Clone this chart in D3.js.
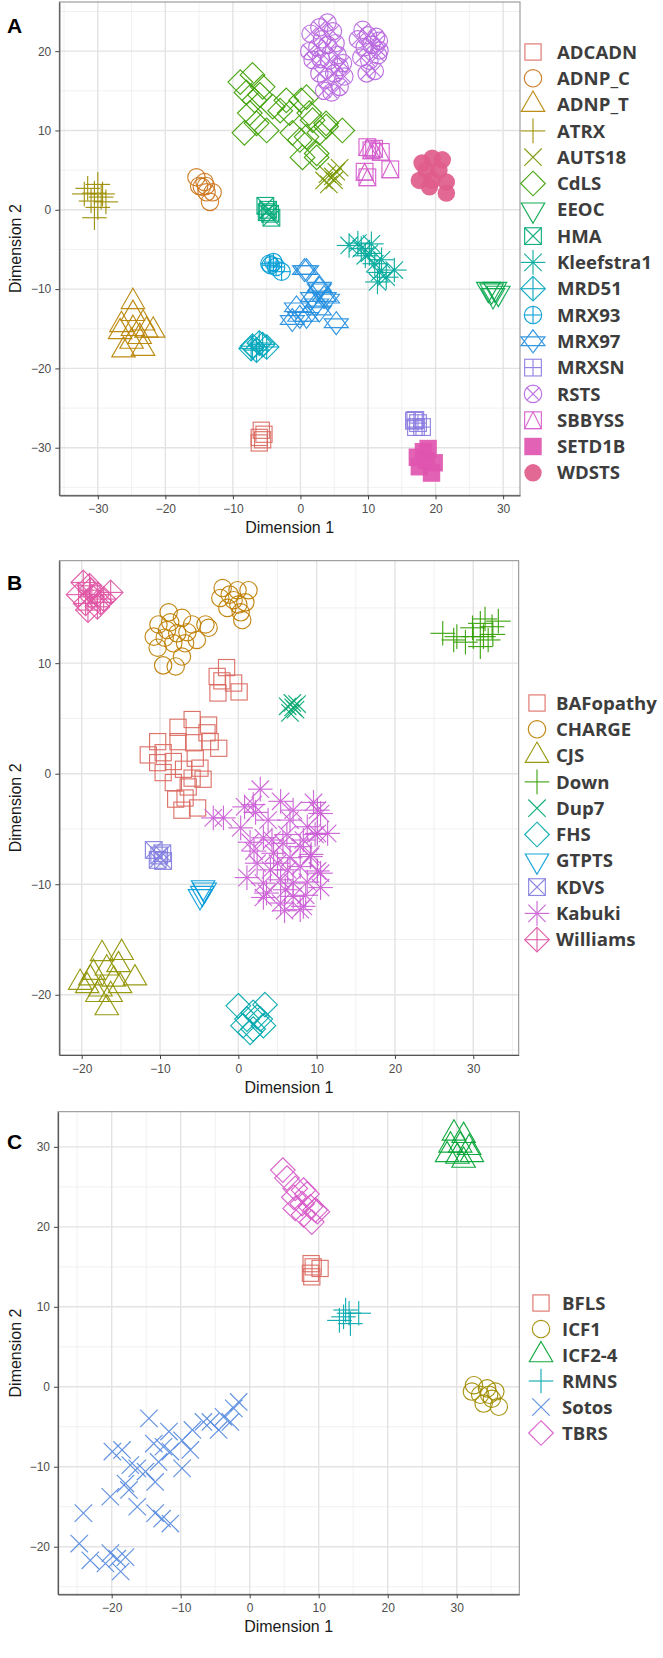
<!DOCTYPE html>
<html><head><meta charset="utf-8">
<script src="https://cdn.jsdelivr.net/npm/d3@7"></script>
<style>body{margin:0;background:#fff}svg{display:block}</style>
</head><body>
<svg id="chart" width="663" height="1658"></svg>
<script>
// ---------------- DATA ----------------
const categoriesA = ["ADCADN","ADNP_C","ADNP_T","ATRX","AUTS18","CdLS","EEOC","HMA","Kleefstra1","MRD51","MRX93","MRX97","MRXSN","RSTS","SBBYSS","SETD1B","WDSTS"];
const categoriesB = ["BAFopathy","CHARGE","CJS","Down","Dup7","FHS","GTPTS","KDVS","Kabuki","Williams"];
const categoriesC = ["BFLS","ICF1","ICF2-4","RMNS","Sotos","TBRS"];

const xTicksA = [-30,-20,-10,0,10,20,30];
const yTicksA = [-30,-20,-10,0,10,20];
const xTicksB = [-20,-10,0,10,20,30];
const yTicksB = [-20,-10,0,10];
const xTicksC = [-20,-10,0,10,20,30];
const yTicksC = [-20,-10,0,10,20,30];

const xDomainA = [-35.7,32.5], yDomainA = [-36.0,26.2];
const xDomainB = [-22.86,35.8], yDomainB = [-25.45,19.27];
const xDomainC = [-27.78,39.07], yDomainC = [-25.95,34.4];

// [group, dimension1, dimension2]
const pointsA = [
["ADCADN",-5.8,-27.8],["ADCADN",-6.1,-28.7],["ADCADN",-5.6,-29.0],["ADCADN",-6.1,-29.4],["ADCADN",-5.4,-28.3],
["ADNP_C",-15.4,4.1],["ADNP_C",-14.2,3.5],["ADNP_C",-14.6,2.9],["ADNP_C",-13.9,2.2],["ADNP_C",-13.4,1.0],["ADNP_C",-13.0,2.2],["ADNP_C",-15.0,3.0],["ADNP_C",-14.0,3.0],
["ADNP_T",-24.8,-11.6],["ADNP_T",-24.8,-13.1],["ADNP_T",-26.5,-14.5],["ADNP_T",-23.3,-14.3],["ADNP_T",-24.8,-15.0],["ADNP_T",-22.8,-15.2],["ADNP_T",-21.8,-15.2],["ADNP_T",-26.7,-15.4],["ADNP_T",-25.0,-16.6],["ADNP_T",-23.8,-16.0],["ADNP_T",-26.2,-17.7],["ADNP_T",-23.3,-17.5],
["ATRX",-31.5,2.7],["ATRX",-30.0,3.2],["ATRX",-30.5,2.1],["ATRX",-29.5,1.6],["ATRX",-31.0,1.1],["ATRX",-30.0,0.3],["ATRX",-30.5,-1.0],["ATRX",-28.8,1.0],["ATRX",-29.3,2.0],["ATRX",-32.0,2.0],
["AUTS18",3.5,3.7],["AUTS18",4.2,3.2],["AUTS18",4.8,4.2],["AUTS18",5.3,4.8],["AUTS18",5.8,5.3],["AUTS18",4.0,4.5],["AUTS18",5.0,3.7],
["CdLS",-8.9,16.1],["CdLS",-7.1,17.0],["CdLS",-5.6,15.5],["CdLS",-8.0,14.8],["CdLS",-6.8,13.8],["CdLS",-7.5,12.2],["CdLS",-6.5,10.9],["CdLS",-8.3,9.7],["CdLS",-5.0,10.0],["CdLS",-4.1,13.0],["CdLS",-2.1,13.8],["CdLS",-1.6,12.2],["CdLS",0.1,13.8],["CdLS",-1.2,9.7],["CdLS",0.9,9.2],["CdLS",-0.1,8.8],["CdLS",1.8,11.3],["CdLS",2.8,9.7],["CdLS",0.3,6.6],["CdLS",2.4,6.6],["CdLS",3.8,10.5],["CdLS",0.9,14.2],["CdLS",1.3,12.2],["CdLS",3.8,10.9],["CdLS",6.2,10.0],["CdLS",2.4,7.1],["CdLS",-3.0,12.5],["CdLS",-6.0,14.5],
["EEOC",27.8,-10.0],["EEOC",28.3,-10.2],["EEOC",28.8,-10.0],["EEOC",29.3,-10.5],["EEOC",28.5,-10.8],
["HMA",-5.2,0.5],["HMA",-4.8,0.0],["HMA",-4.5,-0.5],["HMA",-4.3,-1.0],["HMA",-5.0,-0.3],
["Kleefstra1",7.2,-4.5],["Kleefstra1",9.0,-4.9],["Kleefstra1",10.2,-5.5],["Kleefstra1",12.0,-6.3],["Kleefstra1",11.7,-7.9],["Kleefstra1",13.9,-7.6],["Kleefstra1",11.4,-9.1],["Kleefstra1",12.7,-8.5],["Kleefstra1",8.5,-4.2],["Kleefstra1",10.5,-4.3],["Kleefstra1",9.6,-5.8],["Kleefstra1",11.0,-6.8],
["MRD51",-7.1,-17.2],["MRD51",-5.0,-17.3],["MRD51",-6.1,-16.8],["MRD51",-6.5,-17.7],["MRD51",-5.6,-17.0],["MRD51",-7.3,-17.5],
["MRX93",-4.6,-6.8],["MRX93",-3.6,-7.2],["MRX93",-2.8,-7.8],["MRX93",-4.4,-7.0],["MRX93",-4.0,-6.6],
["MRX97",0.6,-7.6],["MRX97",2.8,-9.9],["MRX97",-0.6,-12.3],["MRX97",-1.2,-13.9],["MRX97",0.9,-13.5],["MRX97",2.4,-11.8],["MRX97",3.5,-11.0],["MRX97",0.9,-7.6],["MRX97",2.8,-9.7],["MRX97",1.8,-11.0],["MRX97",4.0,-11.2],["MRX97",2.8,-12.7],["MRX97",5.3,-14.3],["MRX97",-0.1,-13.5],
["MRXSN",17.0,-26.5],["MRXSN",17.4,-26.9],["MRXSN",17.1,-27.4],["MRXSN",18.0,-27.4],["MRXSN",16.8,-26.6],
["RSTS",1.5,22.2],["RSTS",2.8,23.0],["RSTS",4.0,23.6],["RSTS",4.8,22.5],["RSTS",3.2,21.5],["RSTS",1.3,20.0],["RSTS",2.5,20.5],["RSTS",4.0,20.8],["RSTS",5.2,21.0],["RSTS",1.8,18.9],["RSTS",3.0,19.0],["RSTS",4.2,18.8],["RSTS",5.5,19.5],["RSTS",6.3,18.5],["RSTS",2.8,17.2],["RSTS",3.8,16.4],["RSTS",5.0,17.2],["RSTS",5.8,18.0],["RSTS",6.5,16.8],["RSTS",3.5,15.0],["RSTS",4.6,14.8],["RSTS",5.8,15.5],["RSTS",8.5,21.5],["RSTS",9.2,22.7],["RSTS",10.0,22.0],["RSTS",11.2,21.8],["RSTS",11.6,21.3],["RSTS",9.5,20.5],["RSTS",10.5,20.8],["RSTS",11.7,20.1],["RSTS",9.0,19.2],["RSTS",10.2,18.8],["RSTS",9.8,17.2],["RSTS",11.0,17.5],["RSTS",11.5,19.5],
["SBBYSS",9.9,7.9],["SBBYSS",10.9,7.7],["SBBYSS",11.9,7.3],["SBBYSS",13.3,5.1],["SBBYSS",9.5,4.8],["SBBYSS",9.9,4.1],["SBBYSS",10.5,7.5],
["SETD1B",18.9,-30.1],["SETD1B",17.3,-31.2],["SETD1B",18.6,-31.6],["SETD1B",19.8,-31.9],["SETD1B",19.4,-33.2],["SETD1B",17.6,-32.4],["SETD1B",18.2,-30.5],
["WDSTS",18.0,5.9],["WDSTS",19.5,6.5],["WDSTS",21.0,6.3],["WDSTS",17.6,3.7],["WDSTS",19.5,3.7],["WDSTS",21.6,3.5],["WDSTS",19.1,2.9],["WDSTS",21.6,2.1],["WDSTS",18.6,5.0],["WDSTS",20.5,5.0]
];

const pointsB = [
["BAFopathy",-1.5,9.6],["BAFopathy",-2.7,8.8],["BAFopathy",-0.6,8.2],["BAFopathy",-2.6,7.3],["BAFopathy",0.1,7.4],["BAFopathy",-2.1,8.4],
["BAFopathy",-5.9,4.9],["BAFopathy",-7.7,4.2],["BAFopathy",-3.8,4.4],["BAFopathy",-4.0,3.7],["BAFopathy",-10.3,2.9],["BAFopathy",-11.5,1.7],["BAFopathy",-9.6,1.9],["BAFopathy",-7.7,2.9],["BAFopathy",-5.7,2.8],["BAFopathy",-2.5,2.3],["BAFopathy",-3.6,2.9],["BAFopathy",-10.3,1.0],["BAFopathy",-8.3,1.1],["BAFopathy",-5.5,1.4],["BAFopathy",-7.0,0.4],["BAFopathy",-4.9,0.5],["BAFopathy",-9.6,0.1],["BAFopathy",-5.9,-0.4],["BAFopathy",-4.5,-0.5],["BAFopathy",-8.3,-0.8],["BAFopathy",-8.0,-2.3],["BAFopathy",-6.8,-2.2],["BAFopathy",-5.2,-3.1],["BAFopathy",-7.2,-3.3],["BAFopathy",-6.4,-1.2],
["CHARGE",-10.2,13.5],["CHARGE",-8.9,14.6],["CHARGE",-7.2,14.1],["CHARGE",-10.8,12.4],["CHARGE",-9.1,13.0],["CHARGE",-7.8,12.7],["CHARGE",-5.9,13.5],["CHARGE",-4.2,13.5],["CHARGE",-10.3,11.4],["CHARGE",-8.3,11.8],["CHARGE",-6.8,11.8],["CHARGE",-7.2,10.6],["CHARGE",-9.6,9.8],["CHARGE",-8.0,9.7],["CHARGE",-5.3,12.1],["CHARGE",-6.5,12.8],["CHARGE",-8.7,13.7],["CHARGE",-9.4,12.3],["CHARGE",-3.8,13.2],
["CHARGE",-2.0,16.8],["CHARGE",-0.1,16.6],["CHARGE",1.3,16.6],["CHARGE",-2.3,15.9],["CHARGE",-0.6,15.7],["CHARGE",0.9,15.5],["CHARGE",-1.4,15.0],["CHARGE",0.3,14.6],["CHARGE",0.5,13.9],["CHARGE",-1.1,16.2],["CHARGE",0.0,15.3],
["CJS",-17.4,-16.3],["CJS",-14.9,-16.2],["CJS",-20.2,-18.9],["CJS",-18.5,-18.0],["CJS",-16.8,-17.6],["CJS",-15.3,-17.3],["CJS",-13.2,-18.5],["CJS",-17.6,-19.5],["CJS",-15.9,-18.6],["CJS",-19.3,-19.2],["CJS",-16.8,-21.2],["CJS",-15.1,-19.2],["CJS",-18.0,-20.0],["CJS",-16.3,-20.0],["CJS",-18.9,-18.5],
["Down",26.1,12.7],["Down",27.5,12.1],["Down",29.0,11.9],["Down",29.9,13.2],["Down",30.9,13.6],["Down",31.3,12.4],["Down",31.9,12.1],["Down",32.4,13.3],["Down",33.2,13.8],["Down",30.9,11.5],["Down",30.0,12.4],["Down",32.5,12.6],["Down",31.5,14.0],["Down",27.9,12.4],
["Dup7",6.9,6.4],["Dup7",7.3,5.8],["Dup7",6.6,5.5],["Dup7",7.5,6.3],["Dup7",6.3,6.1],["Dup7",7.0,6.0],
["FHS",0.0,-21.0],["FHS",3.4,-20.9],["FHS",1.9,-21.6],["FHS",1.1,-22.2],["FHS",2.8,-22.2],["FHS",1.9,-23.1],["FHS",3.2,-22.8],["FHS",0.6,-22.8],["FHS",1.5,-23.4],["FHS",2.4,-22.0],
["GTPTS",-4.5,-10.3],["GTPTS",-4.6,-10.8],["GTPTS",-4.9,-11.1],["GTPTS",-4.3,-10.5],
["KDVS",-10.8,-6.9],["KDVS",-9.7,-7.2],["KDVS",-10.3,-7.8],["KDVS",-9.6,-7.9],["KDVS",-10.1,-7.4],
["Kabuki",2.8,-1.4],["Kabuki",5.4,-2.5],["Kabuki",1.9,-2.8],["Kabuki",-1.9,-4.0],["Kabuki",7.0,-3.3],["Kabuki",10.1,-3.3],["Kabuki",-3.2,-4.0],["Kabuki",0.3,-4.9],["Kabuki",2.2,-3.5],["Kabuki",6.6,-4.2],["Kabuki",8.8,-4.8],["Kabuki",9.6,-2.6],["Kabuki",3.2,-5.8],["Kabuki",5.7,-6.3],["Kabuki",7.9,-6.6],["Kabuki",9.8,-5.5],["Kabuki",4.5,-7.2],["Kabuki",6.6,-7.6],["Kabuki",9.2,-7.5],["Kabuki",2.4,-8.1],["Kabuki",1.1,-9.4],["Kabuki",4.1,-8.7],["Kabuki",6.3,-8.7],["Kabuki",7.9,-8.4],["Kabuki",10.1,-8.8],["Kabuki",3.2,-9.9],["Kabuki",5.4,-9.6],["Kabuki",7.0,-9.9],["Kabuki",8.8,-9.8],["Kabuki",10.5,-10.3],["Kabuki",3.2,-11.2],["Kabuki",5.4,-11.7],["Kabuki",7.0,-11.1],["Kabuki",7.9,-12.3],["Kabuki",6.0,-10.5],["Kabuki",5.0,-8.1],["Kabuki",10.5,-3.6],["Kabuki",10.1,-5.4],["Kabuki",10.5,-9.0],["Kabuki",8.3,-12.0],["Kabuki",11.4,-5.4],["Kabuki",9.3,-7.3],["Kabuki",0.8,-3.0],["Kabuki",1.5,-6.2],["Kabuki",3.8,-4.2],["Kabuki",4.3,-6.0],["Kabuki",6.2,-5.5],["Kabuki",8.3,-6.0],["Kabuki",3.6,-10.8],["Kabuki",5.9,-12.4],["Kabuki",8.6,-11.0],["Kabuki",2.0,-7.0],
["Williams",-19.8,17.3],["Williams",-18.9,16.6],["Williams",-20.4,16.2],["Williams",-18.0,16.2],["Williams",-16.3,16.4],["Williams",-19.5,15.4],["Williams",-18.0,15.1],["Williams",-19.2,14.8],["Williams",-17.6,15.5],["Williams",-18.7,16.0],["Williams",-19.0,17.0],["Williams",-17.2,15.8]
];

const pointsC = [
["BFLS",8.9,15.4],["BFLS",8.8,14.2],["BFLS",9.0,13.75],["BFLS",10.2,14.8],["BFLS",9.2,15.0],
["ICF1",32.5,0.2],["ICF1",34.4,-0.2],["ICF1",32.2,-0.6],["ICF1",33.4,-1.0],["ICF1",35.6,-0.6],["ICF1",35.1,-1.5],["ICF1",33.9,-2.1],["ICF1",36.1,-2.5],["ICF1",34.7,-1.0],
["ICF2-4",29.6,31.7],["ICF2-4",31.0,31.4],["ICF2-4",29.1,30.2],["ICF2-4",30.5,30.2],["ICF2-4",31.8,29.9],["ICF2-4",28.6,29.0],["ICF2-4",30.1,28.8],["ICF2-4",32.2,29.0],["ICF2-4",31.0,28.3],
["RMNS",13.6,8.75],["RMNS",14.4,9.2],["RMNS",13.0,8.3],["RMNS",14.6,7.9],["RMNS",13.9,9.6],["RMNS",15.8,9.2],
["Sotos",-1.6,-1.9],["Sotos",-2.3,-2.7],["Sotos",-3.8,-3.75],["Sotos",-2.8,-4.4],["Sotos",-4.5,-5.4],["Sotos",-6.7,-4.4],["Sotos",-8.3,-5.4],["Sotos",-9.8,-6.7],["Sotos",-8.6,-7.9],["Sotos",-14.6,-3.95],["Sotos",-11.7,-5.6],["Sotos",-13.9,-7.1],["Sotos",-12.5,-7.5],["Sotos",-11.5,-8.1],["Sotos",-13.2,-9.4],["Sotos",-9.8,-10.2],["Sotos",-15.1,-10.6],["Sotos",-13.7,-11.9],["Sotos",-19.9,-8.1],["Sotos",-18.5,-7.9],["Sotos",-17.3,-9.8],["Sotos",-16.3,-10.2],["Sotos",-18.0,-12.1],["Sotos",-17.5,-12.9],["Sotos",-20.2,-13.75],["Sotos",-16.3,-15.0],["Sotos",-13.7,-15.8],["Sotos",-12.7,-16.5],["Sotos",-11.5,-17.1],["Sotos",-24.1,-15.8],["Sotos",-24.7,-19.6],["Sotos",-23.1,-21.7],["Sotos",-20.2,-20.8],["Sotos",-19.2,-21.5],["Sotos",-18.0,-21.3],["Sotos",-20.9,-22.1],["Sotos",-18.7,-23.1],["Sotos",-5.7,-4.4],
["TBRS",4.8,27.1],["TBRS",5.4,26.1],["TBRS",6.6,24.8],["TBRS",7.8,24.6],["TBRS",6.4,23.7],["TBRS",7.6,22.9],["TBRS",6.6,22.3],["TBRS",8.8,22.5],["TBRS",9.8,21.9],["TBRS",7.8,21.5],["TBRS",9.0,20.6],["TBRS",8.3,24.1],["TBRS",9.5,22.1]
];

// ---------------- HELPERS ----------------
function luvHex(h, c, l) {
  const WY = 100, Wu = 0.1978398, Wv = 0.4683363;
  const hr = h * Math.PI / 180, U = c * Math.cos(hr), V = c * Math.sin(hr);
  const Y = WY * (l > 7.999592 ? Math.pow((l + 16) / 116, 3) : l / 903.3);
  const u = U / (13 * l) + Wu, v = V / (13 * l) + Wv;
  const X = 9 * Y * u / (4 * v), Z = -X / 3 - 5 * Y + 3 * Y / v;
  const g = t => t > 0.00304 ? 1.055 * Math.pow(t, 1 / 2.4) - 0.055 : 12.92 * t;
  const cl = t => Math.max(0, Math.min(1, t));
  const k = 0.88;
  const r = cl(g((3.240479 * X - 1.537150 * Y - 0.498535 * Z) / WY));
  const gg = cl(g((-0.969256 * X + 1.875992 * Y + 0.041556 * Z) / WY));
  const b = cl(g((0.055648 * X - 0.204043 * Y + 1.057311 * Z) / WY));
  return d3.rgb(Math.round(255 * r * k), Math.round(255 * gg * k), Math.round(255 * b * k)).formatHex();
}
function huePal(n) { return d3.range(n).map(i => luvHex(15 + i * 360 / n, 100, 65)); }

const R = 8.7, SW = 1.15;
function drawSymbol(g, shape, color) {
  const line = (x1, y1, x2, y2) => g.append("line").attr("x1", x1).attr("y1", y1).attr("x2", x2).attr("y2", y2);
  const poly = pts => g.append("polygon").attr("points", pts.map(p => p.join(",")).join(" ")).attr("fill", "none");
  const rect = s => g.append("rect").attr("x", -s).attr("y", -s).attr("width", 2 * s).attr("height", 2 * s).attr("fill", "none");
  const circ = r => g.append("circle").attr("r", r).attr("fill", "none");
  const plus = s => { line(-s, 0, s, 0); line(0, -s, 0, s); };
  const cross = s => { line(-s, -s, s, s); line(-s, s, s, -s); };
  const sq = R * 0.96, d = R * 1.414;
  g.attr("stroke", color).attr("stroke-width", SW);
  switch (shape) {
    case 0: rect(R * 0.93); break;
    case 1: circ(R); break;
    case 2: poly([[0, -1.555 * R], [1.347 * R, 0.778 * R], [-1.347 * R, 0.778 * R]]); break;
    case 3: plus(d); break;
    case 4: cross(R); break;
    case 5: poly([[0, -d], [d, 0], [0, d], [-d, 0]]); break;
    case 6: poly([[0, 1.555 * R], [1.347 * R, -0.778 * R], [-1.347 * R, -0.778 * R]]); break;
    case 7: rect(sq); cross(sq); break;
    case 8: cross(R); plus(d); break;
    case 9: poly([[0, -d], [d, 0], [0, d], [-d, 0]]); plus(d); break;
    case 10: circ(R); plus(R); break;
    case 11: {
      const r = 1.32 * R, yc = 0.5 * R, xc = 1.38 * R;
      poly([[0, -r], [xc, yc], [-xc, yc]]);
      poly([[0, r], [xc, -yc], [-xc, -yc]]);
      break;
    }
    case 12: rect(sq); plus(sq); break;
    case 13: circ(R); cross(R * 0.707); break;
    case 14: rect(sq); poly([[0, -sq], [sq, sq], [-sq, sq]]); break;
    case 15: g.append("rect").attr("x", -R).attr("y", -R).attr("width", 2 * R).attr("height", 2 * R).attr("fill", color).attr("stroke", "none"); break;
    case 16: g.append("circle").attr("r", R).attr("fill", color).attr("stroke", "none"); break;
  }
}
const minus = d => d < 0 ? "\u2212" + Math.abs(d) : String(d);

const svg = d3.select("#chart");

function drawPanel(cfg) {
  const { cats, pts, xDom, yDom, box, xT, yT, leg, label, labelY } = cfg;
  const colors = huePal(cats.length);
  const col = d3.scaleOrdinal().domain(cats).range(colors);
  const shp = d3.scaleOrdinal().domain(cats).range(d3.range(cats.length));
  const x = d3.scaleLinear().domain(xDom).range([box.l, box.r]);
  const y = d3.scaleLinear().domain(yDom).range([box.b, box.t]);
  const g = svg.append("g");

  // minor grid
  const minorX = d3.range(Math.ceil(xDom[0] / 5) * 5, xDom[1], 5).filter(v => v % 10 !== 0);
  const minorY = d3.range(Math.ceil(yDom[0] / 5) * 5, yDom[1], 5).filter(v => v % 10 !== 0);
  g.selectAll(".mx").data(minorX).join("line").attr("x1", d => x(d)).attr("x2", d => x(d)).attr("y1", box.t).attr("y2", box.b).attr("stroke", "#efefef").attr("stroke-width", 0.9);
  g.selectAll(".my").data(minorY).join("line").attr("y1", d => y(d)).attr("y2", d => y(d)).attr("x1", box.l).attr("x2", box.r).attr("stroke", "#efefef").attr("stroke-width", 0.9);
  g.selectAll(".gx").data(xT).join("line").attr("x1", d => x(d)).attr("x2", d => x(d)).attr("y1", box.t).attr("y2", box.b).attr("stroke", "#e3e3e3").attr("stroke-width", 1.4);
  g.selectAll(".gy").data(yT).join("line").attr("y1", d => y(d)).attr("y2", d => y(d)).attr("x1", box.l).attr("x2", box.r).attr("stroke", "#e3e3e3").attr("stroke-width", 1.4);

  // points
  const pg = g.append("g");
  pts.forEach(p => {
    const s = pg.append("g").attr("transform", `translate(${x(p[1])},${y(p[2])})`).attr("opacity", 0.92);
    drawSymbol(s, shp(p[0]), col(p[0]));
  });

  // border
  g.append("rect").attr("x", box.l).attr("y", box.t).attr("width", box.r - box.l).attr("height", box.b - box.t)
    .attr("fill", "none").attr("stroke", "#8a8a8a").attr("stroke-width", 1);

  // axes
  const ax = g.append("g").attr("transform", `translate(0,${box.b})`)
    .call(d3.axisBottom(x).tickValues(xT).tickSize(4).tickSizeOuter(0).tickPadding(3).tickFormat(minus));
  const ay = g.append("g").attr("transform", `translate(${box.l},0)`)
    .call(d3.axisLeft(y).tickValues(yT).tickSize(4).tickSizeOuter(0).tickPadding(4).tickFormat(minus));
  [ax, ay].forEach(a => {
    a.select(".domain").attr("stroke", "#555").attr("stroke-width", 1.2);
    a.selectAll(".tick line").attr("stroke", "#444");
    a.selectAll(".tick text").attr("fill", "#4d4d4d").style("font-family", "'Liberation Sans', Arial, sans-serif").style("font-size", "12px");
  });
  ax.selectAll(".tick text").attr("dy", null).attr("y", 18);

  g.append("text").attr("x", (box.l + box.r) / 2).attr("y", box.b + 37.5).attr("text-anchor", "middle")
    .style("font-family", "'Liberation Sans', Arial, sans-serif").style("font-size", "16px").attr("fill", "#1a1a1a").text("Dimension 1");
  g.append("text").attr("transform", `translate(21,${(box.t + box.b) / 2}) rotate(-90)`).attr("text-anchor", "middle")
    .style("font-family", "'Liberation Sans', Arial, sans-serif").style("font-size", "16px").attr("fill", "#1a1a1a").text("Dimension 2");
  g.append("text").attr("x", 7).attr("y", labelY)
    .style("font-family", "'Liberation Sans', Arial, sans-serif").style("font-size", "21px").style("font-weight", "bold").attr("fill", "#000").text(label);

  // legend
  const lg = g.append("g");
  cats.forEach((c, i) => {
    const yy = leg.y0 + i * leg.step;
    const s = lg.append("g").attr("transform", `translate(${leg.sx},${yy})`).attr("opacity", 0.92);
    drawSymbol(s, shp(c), col(c));
    lg.append("text").attr("x", leg.tx).attr("y", yy).attr("dy", "0.36em")
      .style("font-family", "'Open Sans', sans-serif").style("font-size", "18.6px").style("font-weight", "700")
      .attr("fill", "#3d3d3d").text(c);
  });
}

drawPanel({ cats: categoriesA, pts: pointsA, xDom: xDomainA, yDom: yDomainA,
  box: { l: 59.3, r: 520, t: 2, b: 495.3 }, xT: xTicksA, yT: yTicksA,
  leg: { sx: 533, tx: 557, y0: 52, step: 26.3 }, label: "A", labelY: 33 });
drawPanel({ cats: categoriesB, pts: pointsB, xDom: xDomainB, yDom: yDomainB,
  box: { l: 59.3, r: 518.7, t: 560.7, b: 1055 }, xT: xTicksB, yT: yTicksB,
  leg: { sx: 537, tx: 556, y0: 703, step: 26.3 }, label: "B", labelY: 590 });
drawPanel({ cats: categoriesC, pts: pointsC, xDom: xDomainC, yDom: yDomainC,
  box: { l: 58, r: 519.3, t: 1111.7, b: 1594.3 }, xT: xTicksC, yT: yTicksC,
  leg: { sx: 541, tx: 562, y0: 1303, step: 26 }, label: "C", labelY: 1149 });
</script>
</body></html>
